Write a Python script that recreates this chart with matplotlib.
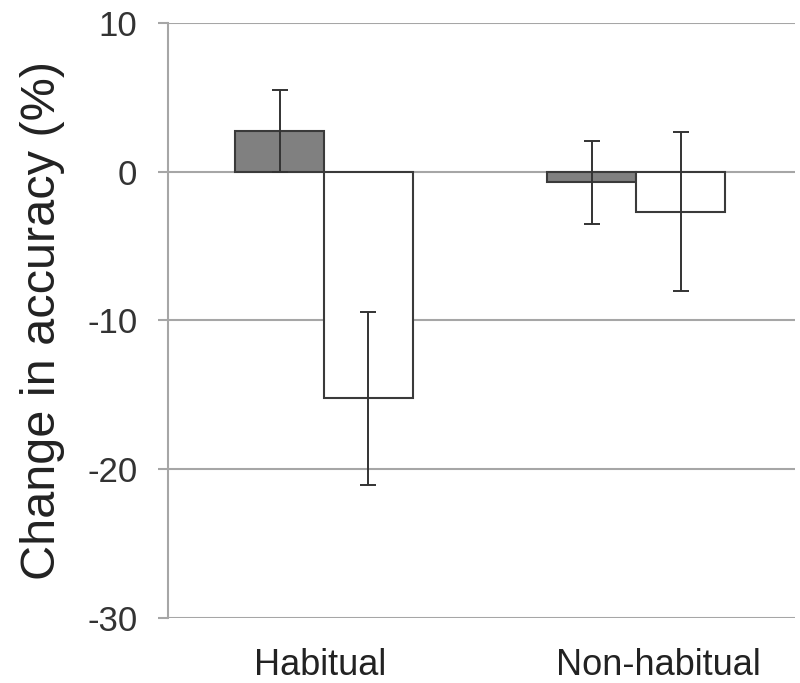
import numpy as np
import matplotlib.pyplot as plt
import matplotlib.transforms as mtransforms

plt.rcParams['font.family'] = ['Liberation Sans', 'DejaVu Sans']
plt.rcParams['axes.unicode_minus'] = False

# Dati
groups = ["Habitual", "Non-habitual"]
cond_a = [2.75, -0.7]     # barre grigie
cond_a_err = [2.75, 2.8]
cond_b = [-15.25, -2.7]   # barre bianche
cond_b_err = [5.8, 5.35]
yticks = [10, 0, -10, -20, -30]

fig = plt.figure(figsize=(8, 6.83), dpi=100)
ax = fig.add_axes([0.21, 0.0956, 0.784, 0.8704])

x = np.arange(len(groups))
w = 0.285
grid_col = '#a6a6a6'
edge_col = '#3a3a3a'

for y in yticks:
    ax.axhline(y, color=grid_col, lw=1.5, zorder=0)

ax.bar(x - w / 2, cond_a, w, color='#808080', edgecolor=edge_col, linewidth=1.5, zorder=2)
ax.bar(x + w / 2, cond_b, w, color='white', edgecolor=edge_col, linewidth=1.5, zorder=2)
ax.errorbar(x - w / 2, cond_a, yerr=cond_a_err, fmt='none', ecolor='#333333',
            elinewidth=1.4, capsize=6, capthick=1.4, zorder=3)
ax.errorbar(x + w / 2, cond_b, yerr=cond_b_err, fmt='none', ecolor='#333333',
            elinewidth=1.4, capsize=6, capthick=1.4, zorder=3)

ax.set_xlim(-0.5, 1.51)
ax.set_ylim(-30, 10)
ax.set_yticks(yticks)
ax.set_xticks(x)
ax.set_xticklabels(groups, fontsize=26)
ax.tick_params(axis='x', length=0, pad=22, colors='#222222')
ax.tick_params(axis='y', length=7, width=1.5, color=grid_col, labelsize=25, pad=15,
               labelcolor='#333333')

# nell'originale le etichette non sono perfettamente centrate
shifts = [-4, 22]
for lab, dx in zip(ax.get_xticklabels(), shifts):
    lab.set_transform(lab.get_transform() +
                      mtransforms.ScaledTranslation(dx / 100, 0, fig.dpi_scale_trans))

for s in ['top', 'right', 'bottom']:
    ax.spines[s].set_visible(False)
ax.spines['left'].set_color(grid_col)
ax.spines['left'].set_linewidth(1.5)

ax.set_ylabel("Change in accuracy (%)", fontsize=35, color='#222222', labelpad=16)

fig.savefig("out.png", dpi=100, facecolor='white')
